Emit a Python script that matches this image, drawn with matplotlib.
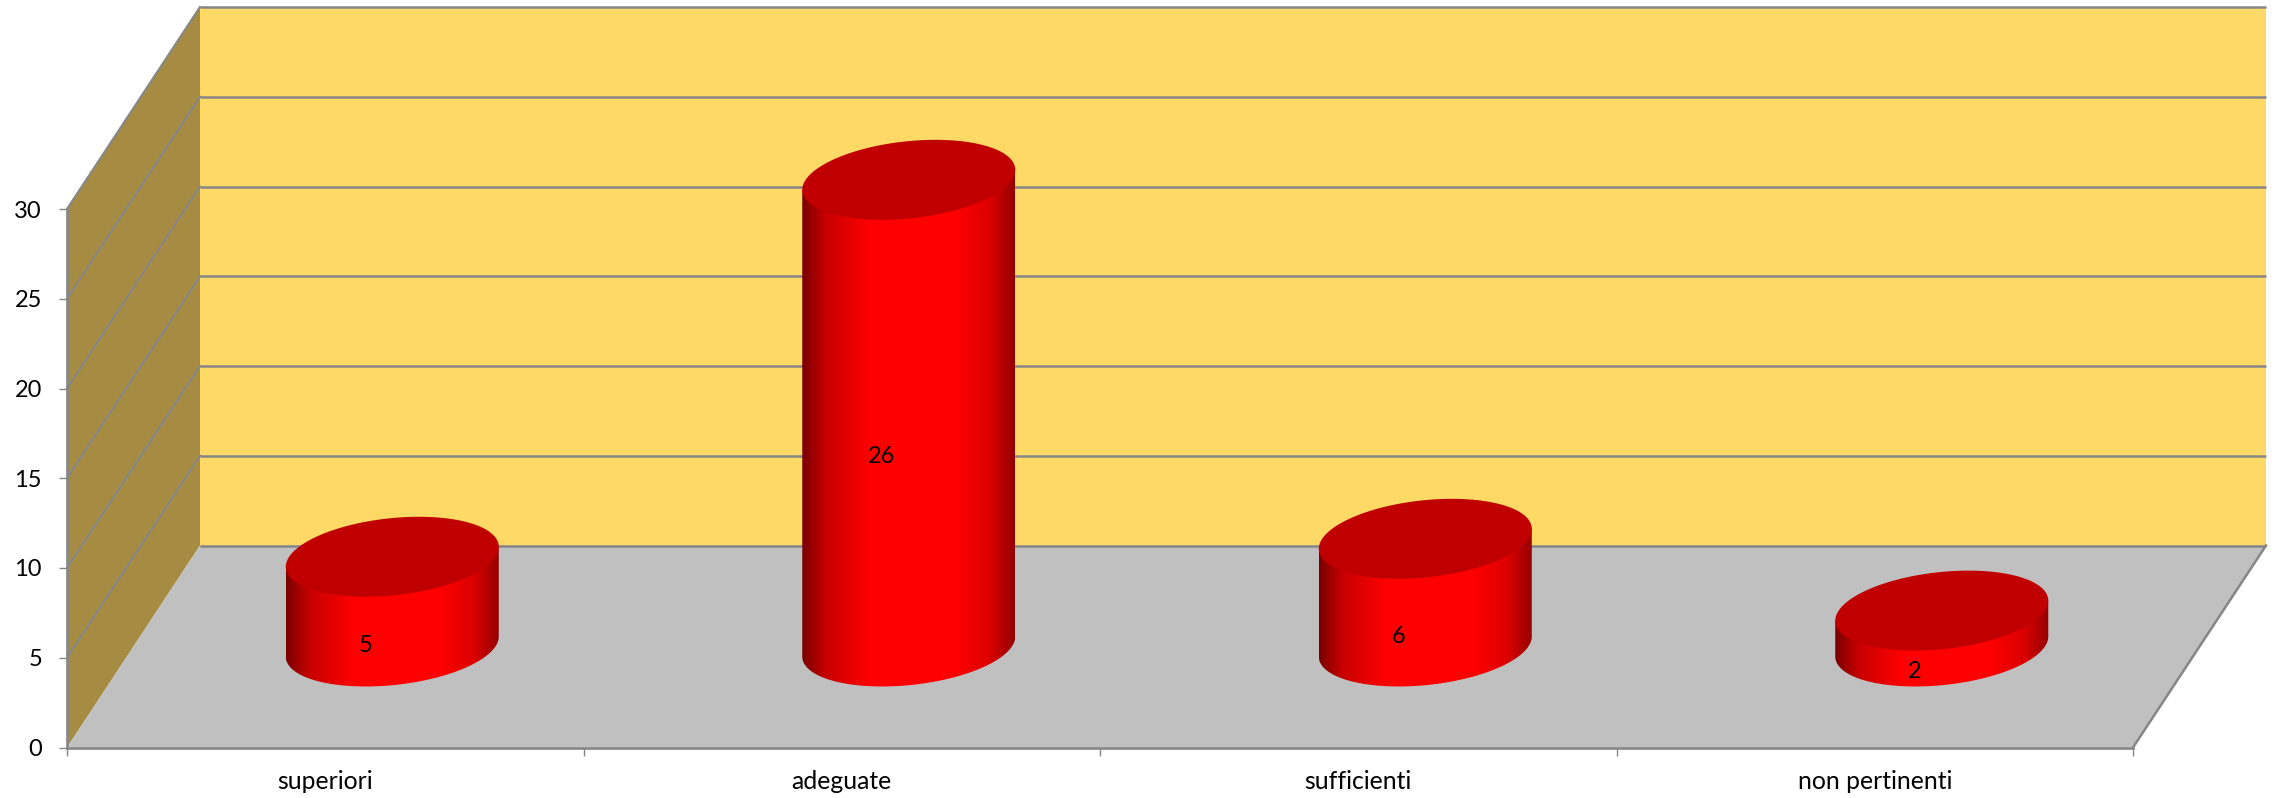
import numpy as np
import matplotlib
matplotlib.use('Agg')
import matplotlib.pyplot as plt
from matplotlib.patches import Polygon
from matplotlib.colors import LinearSegmentedColormap

categories = ['superiori', 'adeguate', 'sufficienti', 'non pertinenti']
values = [5, 26, 6, 2]
y_ticks = [0, 5, 10, 15, 20, 25, 30]

W, H = 2277, 798
plt.rcParams['font.family'] = ['Lato', 'DejaVu Sans']

fig = plt.figure(figsize=(W / 100, H / 100), dpi=100, facecolor='white')
ax = fig.add_axes([67 / W, (H - 747.5) / H, 2066 / W, 538.5 / H])
ax.set_xlim(0, 4)
ax.set_ylim(0, 30)

# Depth of the fake 3d box, in data units
dx = 133 / 516.5
dy = 202 / 17.95
GRID = '#868686'

# Walls and floor
ax.add_patch(Polygon([(0, 0), (dx, dy), (dx, 30 + dy), (0, 30)], fc='#A68C42', ec='none', clip_on=False, zorder=1))
ax.add_patch(Polygon([(dx, dy), (4 + dx, dy), (4 + dx, 30 + dy), (dx, 30 + dy)], fc='#FFD966', ec='none', clip_on=False, zorder=1))
ax.add_patch(Polygon([(0, 0), (4, 0), (4 + dx, dy), (dx, dy)], fc='#C0C0C0', ec='none', clip_on=False, zorder=1))

# Gridlines go across the back wall and along the left wall
for t in y_ticks:
    ax.plot([dx, 4 + dx], [t + dy, t + dy], color=GRID, lw=1.8, clip_on=False, zorder=2, solid_capstyle='butt')
    if t > 0:
        ax.plot([0, dx], [t, t + dy], color=GRID, lw=1.5, clip_on=False, zorder=2)
ax.plot([4, 4 + dx], [0, dy], color=GRID, lw=1.8, clip_on=False, zorder=2)

# Cylinders
bar_a = 106.5 / 516.5
bar_b = 38.7 / 17.95
bar_s = 10 / 17.95
t = np.linspace(0, 2 * np.pi, 241)
shade = LinearSegmentedColormap.from_list('cyl', [
    (0, '#7A0000'), (0.11, '#C80000'), (0.32, '#FF0000'), (0.72, '#FF0000'),
    (0.88, '#DD0000'), (1, '#950000')])
gradient = np.linspace(0, 1, 256).reshape(1, -1)

for i, v in enumerate(values):
    cx = i + 0.5 + dx / 2 + 0.001
    base = dy / 2
    ex = cx + bar_a * np.cos(t)
    ey = bar_s * np.cos(t) + bar_b * np.sin(t)

    # side: lower half of the bottom ellipse, then straight up to the top ellipse ends
    low = np.sin(t) < 0
    order = np.argsort(ex[low])
    side = np.vstack([
        [[cx - bar_a, base - bar_s]],
        np.column_stack([ex[low][order], base + ey[low][order]]),
        [[cx + bar_a, base + bar_s]],
        [[cx + bar_a, base + v + bar_s]],
        [[cx - bar_a, base + v - bar_s]],
    ])
    top_pts = np.column_stack([ex, base + v + ey])
    clip = Polygon(side, fc='none', ec='none', transform=ax.transData, clip_on=False)
    ax.add_patch(clip)
    im = ax.imshow(gradient, cmap=shade, aspect='auto', zorder=3, interpolation='bilinear',
                   extent=[cx - bar_a, cx + bar_a, base - 4, base + v + 4])
    im.set_clip_box(fig.bbox)
    im.set_clip_path(clip)

    # the face goes on top of the side
    ax.add_patch(Polygon(top_pts, fc='#C00000', ec='none', clip_on=False, zorder=4))
    ax.text(i + 0.5 + 0.3 * dx, v / 2 + 0.285 * dy, str(v), ha='center', va='center', fontsize=17, color='black', zorder=5)

ax.set_xlim(0, 4)
ax.set_ylim(0, 30)

ax.patch.set_visible(False)
for side_name in ['top', 'right']:
    ax.spines[side_name].set_visible(False)
for side_name in ['left', 'bottom']:
    ax.spines[side_name].set_color(GRID)
    ax.spines[side_name].set_linewidth(1.9)
    ax.spines[side_name].set_zorder(6)

ax.set_yticks(y_ticks)
ax.tick_params(axis='y', length=6, width=1, color=GRID, labelsize=17, pad=12)
ax.set_xticks(range(5))
ax.set_xticklabels([])
ax.tick_params(axis='x', which='major', length=6, width=1, color=GRID)
ax.set_xticks(np.arange(len(categories)) + 0.5, minor=True)
ax.set_xticklabels(categories, minor=True, fontsize=17.8)
ax.tick_params(axis='x', which='minor', length=0, pad=16)

fig.savefig('out.png', dpi=100, facecolor='white')
